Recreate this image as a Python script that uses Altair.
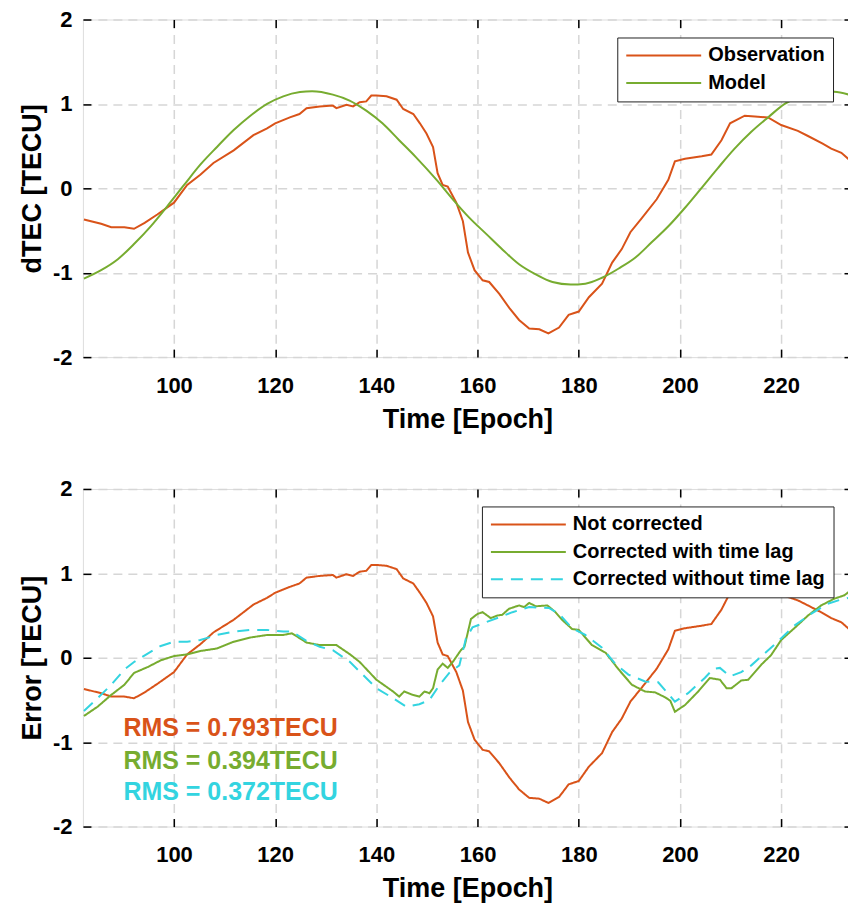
import altair as alt
import pandas as pd

# ---------------- data ----------------
# Top panel: observed dTEC (also the "Not corrected" error in the bottom panel)
obs_t = [82.2, 85.6, 87.6, 90.2, 92.1, 94.2, 96.7, 100.0, 102.6, 105.2,
         107.8, 111.8, 115.7, 118.4, 120.0, 122.9, 124.8, 126.2, 128.8, 131.4,
         132.1, 134.1, 135.4, 136.7, 138.0, 139.0, 140.0, 142.0, 144.0, 145.3,
         147.3, 148.6, 149.9, 151.2, 152.1, 153.1, 154.1, 155.8, 157.1, 158.1,
         159.4, 161.0, 162.3, 164.3, 166.3, 168.2, 170.2, 172.2, 174.0, 176.1,
         178.0, 180.0, 182.0, 184.6, 186.6, 188.5, 190.2, 192.5, 195.4, 197.7,
         199.0, 201.0, 204.3, 206.2, 208.2, 209.9, 212.8, 214.8, 217.4, 220.0,
         223.3, 225.3, 228.2, 229.9, 231.9, 234.0]
obs_v = [-0.37, -0.42, -0.46, -0.46, -0.48, -0.41, -0.31, -0.17, 0.04, 0.16,
         0.30, 0.45, 0.63, 0.71, 0.77, 0.84, 0.88, 0.95, 0.97, 0.98,
         0.95, 0.99, 0.97, 1.02, 1.03, 1.10, 1.10, 1.09, 1.05, 0.94,
         0.88, 0.77, 0.65, 0.49, 0.18, 0.04, 0.02, -0.17, -0.39, -0.76,
         -0.97, -1.09, -1.11, -1.25, -1.42, -1.56, -1.66, -1.67, -1.72, -1.65,
         -1.50, -1.46, -1.29, -1.13, -0.88, -0.72, -0.52, -0.35, -0.13, 0.10,
         0.32, 0.35, 0.38, 0.40, 0.57, 0.77, 0.86, 0.85, 0.84, 0.75,
         0.68, 0.62, 0.53, 0.47, 0.42, 0.31]

# Top panel: model
mod_t = [82.2, 85.6, 88.9, 92.1, 95.4, 98.7, 102.0, 105.2, 108.5, 111.8,
         115.1, 118.4, 121.6, 124.9, 127.3, 131.4, 134.7, 138.0, 141.2, 144.5,
         147.8, 151.9, 155.1, 158.4, 161.7, 165.0, 168.2, 171.5, 174.8, 178.4,
         181.3, 184.6, 187.9, 191.2, 194.4, 197.7, 201.0, 204.2, 207.5, 210.8,
         214.1, 217.4, 220.7, 224.0, 227.2, 230.5, 234.0]
mod_v = [-1.07, -0.97, -0.84, -0.66, -0.45, -0.21, 0.04, 0.28, 0.49, 0.69,
         0.86, 1.00, 1.09, 1.14, 1.15, 1.11, 1.04, 0.92, 0.77, 0.57,
         0.37, 0.10, -0.13, -0.35, -0.54, -0.73, -0.90, -1.02, -1.11, -1.14,
         -1.13, -1.06, -0.95, -0.82, -0.64, -0.45, -0.23, 0.00, 0.24, 0.47,
         0.67, 0.84, 1.00, 1.10, 1.15, 1.145, 1.10]

# Bottom panel: corrected with time lag
lag_t = [82.2, 84.9, 87.6, 90.2, 92.1, 94.8, 97.4, 100.0, 102.6, 105.2,
         108.5, 111.8, 115.1, 118.4, 121.6, 123.3, 126.2, 128.8, 132.1, 134.8,
         136.7, 140.0, 143.3, 144.5, 145.5, 147.2, 148.5, 149.5, 150.5, 151.2,
         152.1, 153.1, 154.1, 155.1, 156.7, 157.4, 158.7, 160.0, 161.0, 162.6,
         163.9, 164.9, 166.2, 168.2, 169.2, 170.2, 171.5, 173.8, 175.4, 176.7,
         178.7, 180.0, 182.6, 185.3, 187.9, 190.5, 193.1, 195.1, 197.1, 198.1,
         199.0, 201.0, 203.6, 205.9, 207.9, 209.2, 210.2, 212.1, 213.5, 216.1,
         218.0, 220.0, 222.6, 225.3, 227.9, 230.5, 232.5, 234.0]
lag_v = [-0.69, -0.58, -0.44, -0.32, -0.18, -0.11, -0.03, 0.02, 0.04, 0.08,
         0.11, 0.19, 0.24, 0.27, 0.27, 0.29, 0.18, 0.15, 0.15, 0.04,
         -0.05, -0.26, -0.40, -0.46, -0.40, -0.44, -0.46, -0.40, -0.42, -0.36,
         -0.14, -0.07, -0.12, -0.05, 0.09, 0.13, 0.46, 0.52, 0.54, 0.47,
         0.50, 0.51, 0.58, 0.62, 0.60, 0.65, 0.61, 0.62, 0.54, 0.45,
         0.34, 0.33, 0.15, 0.06, -0.14, -0.32, -0.40, -0.41, -0.47, -0.51,
         -0.64, -0.56, -0.40, -0.24, -0.26, -0.36, -0.36, -0.27, -0.26, -0.08,
         0.03, 0.21, 0.35, 0.50, 0.62, 0.70, 0.74, 0.81]

# Bottom panel: corrected without time lag
nolag_t = [82.2, 84.9, 87.6, 90.2, 92.1, 94.8, 97.4, 100.0, 102.6, 105.2,
           108.5, 111.8, 115.1, 118.4, 121.6, 123.3, 126.2, 128.8, 131.4, 134.8,
           137.3, 140.0, 143.3, 145.9, 148.5, 150.5, 152.5, 154.4, 156.4, 157.7,
           159.0, 161.6, 164.3, 166.9, 170.2, 174.1, 176.1, 178.7, 181.3, 184.6,
           187.2, 189.8, 193.1, 195.7, 199.0, 201.6, 204.9, 206.6, 207.9, 209.9,
           212.1, 214.1, 216.7, 219.3, 222.6, 225.9, 229.2, 231.8, 234.0]
nolag_v = [-0.63, -0.48, -0.32, -0.14, -0.05, 0.05, 0.14, 0.19, 0.19, 0.21,
           0.27, 0.31, 0.33, 0.33, 0.31, 0.31, 0.20, 0.13, 0.09, -0.05,
           -0.20, -0.36, -0.48, -0.58, -0.55, -0.50, -0.32, -0.18, -0.09, 0.23,
           0.36, 0.42, 0.48, 0.54, 0.60, 0.59, 0.52, 0.35, 0.27, 0.12,
           -0.07, -0.20, -0.28, -0.29, -0.52, -0.42, -0.24, -0.13, -0.12, -0.22,
           -0.17, -0.09, 0.05, 0.19, 0.38, 0.52, 0.64, 0.69, 0.72]

top_series = ["Observation", "Model"]
bottom_series = ["Not corrected", "Corrected with time lag", "Corrected without time lag"]

rms_labels = ["RMS = 0.793TECU", "RMS = 0.394TECU", "RMS = 0.372TECU"]
rms_t = [90.0, 90.0, 90.0]
rms_v = [-0.83, -1.22, -1.59]

x_ticks = [100, 120, 140, 160, 180, 200, 220]
y_ticks = [-2, -1, 0, 1, 2]
x_domain = [82, 234]
y_domain = [-2, 2]

# ---------------- styles ----------------
FONT = "Liberation Sans"
ORANGE = "#D95319"
GREEN = "#77AC30"
CYAN = "#33D4E0"
W, H = 770, 338

obs_df = pd.DataFrame({"t": obs_t, "v": obs_v, "series": top_series[0]})
mod_df = pd.DataFrame({"t": mod_t, "v": mod_v, "series": top_series[1]})
top_df = pd.concat([obs_df, mod_df], ignore_index=True)

bot_df = pd.concat([
    pd.DataFrame({"t": obs_t, "v": obs_v, "series": bottom_series[0]}),
    pd.DataFrame({"t": lag_t, "v": lag_v, "series": bottom_series[1]}),
    pd.DataFrame({"t": nolag_t, "v": nolag_v, "series": bottom_series[2]}),
], ignore_index=True)

rms_df = pd.DataFrame({"label": rms_labels, "t": rms_t, "v": rms_v, "series": bottom_series})

x_scale = alt.Scale(domain=x_domain, nice=False, zero=False)
y_scale = alt.Scale(domain=y_domain, nice=False, zero=False)

label_expr = "replace(datum.label, '\u2212', '-')"


def x_main_axis():
    return alt.Axis(orient="bottom", values=x_ticks, offset=-8, tickSize=8, tickWidth=1.5,
                    tickColor="black", domain=False, grid=True, gridDash=[9, 6],
                    gridColor="#d6d6d6", gridWidth=1.5, labelFont=FONT, labelFontSize=22,
                    labelFontWeight="bold", labelColor="black", labelPadding=18,
                    labelFlush=False, labelOverlap=False, labelExpr=label_expr,
                    title="Time [Epoch]", titleFont=FONT, titleFontSize=27,
                    titleFontWeight="bold", titleColor="black", titlePadding=10)


def y_main_axis(title):
    return alt.Axis(orient="left", values=y_ticks, offset=-8, tickSize=8, tickWidth=1.5,
                    tickColor="black", domain=False, grid=True, gridDash=[9, 6],
                    gridColor="#d6d6d6", gridWidth=1.5, labelFont=FONT, labelFontSize=22,
                    labelFontWeight="bold", labelColor="black", labelPadding=11,
                    labelOverlap=False, labelExpr=label_expr,
                    title=title, titleFont=FONT, titleFontSize=27,
                    titleFontWeight="bold", titleColor="black", titlePadding=6)


def x_top_axis():
    return alt.Axis(orient="top", values=x_ticks, offset=-8, tickSize=8, tickWidth=1.5,
                    tickColor="black", domain=False, grid=False, labels=False, title=None)


def y_right_axis():
    return alt.Axis(orient="right", values=y_ticks, offset=-8, tickSize=8, tickWidth=1.5,
                    tickColor="black", domain=False, grid=False, labels=False, title=None)


def legend(lx, ly):
    return alt.Legend(orient="none", legendX=lx, legendY=ly, title=None,
                      symbolType="stroke", symbolSize=5625, symbolStrokeWidth=2,
                      labelFont=FONT, labelFontSize=20, labelFontWeight="bold",
                      labelColor="black", labelOffset=6, labelLimit=400,
                      strokeColor="#222222", fillColor="white", padding=8,
                      rowPadding=7.5, clipHeight=20)


# ---------------- top panel ----------------
top_color = alt.Scale(domain=top_series, range=[ORANGE, GREEN])
top_legend = legend(535, 18)

obs_line = alt.Chart(top_df).transform_filter(
    alt.datum.series == top_series[0]
).mark_line(strokeWidth=2, clip=True).encode(
    x=alt.X("t:Q", scale=x_scale, axis=x_main_axis()),
    y=alt.Y("v:Q", scale=y_scale, axis=y_main_axis("dTEC [TECU]")),
    color=alt.Color("series:N", scale=top_color, legend=top_legend),
)
mod_line = alt.Chart(top_df).transform_filter(
    alt.datum.series == top_series[1]
).mark_line(strokeWidth=2, clip=True, interpolate="monotone").encode(
    x=alt.X("t:Q", scale=x_scale, axis=None),
    y=alt.Y("v:Q", scale=y_scale, axis=None),
    color=alt.Color("series:N", scale=top_color, legend=top_legend),
)
top_ghost = alt.Chart(top_df).mark_line(strokeOpacity=0, clip=True).encode(
    x=alt.X("t:Q", scale=x_scale, axis=x_top_axis()),
    y=alt.Y("v:Q", scale=y_scale, axis=y_right_axis()),
    detail="series:N",
)
top = alt.layer(obs_line, mod_line, top_ghost).resolve_axis(
    x="independent", y="independent"
).properties(width=W, height=H)

# ---------------- bottom panel ----------------
bot_color = alt.Scale(domain=bottom_series, range=[ORANGE, GREEN, CYAN])
bot_dash = alt.Scale(domain=bottom_series, range=[[1, 0], [1, 0], [12, 8]])
bot_legend = legend(399.5, 17.5)

bot_lines = alt.Chart(bot_df).mark_line(strokeWidth=2, clip=True).encode(
    x=alt.X("t:Q", scale=x_scale, axis=x_main_axis()),
    y=alt.Y("v:Q", scale=y_scale, axis=y_main_axis("Error [TECU]")),
    color=alt.Color("series:N", scale=bot_color, legend=bot_legend),
    strokeDash=alt.StrokeDash("series:N", scale=bot_dash, legend=bot_legend),
)
rms_text = alt.Chart(rms_df).mark_text(
    align="left", baseline="middle", font=FONT, fontSize=25, fontWeight="bold"
).encode(
    x=alt.X("t:Q", scale=x_scale, axis=None),
    y=alt.Y("v:Q", scale=y_scale, axis=None),
    color=alt.Color("series:N", scale=bot_color, legend=None),
    text="label:N",
)
bot_ghost = alt.Chart(bot_df).mark_line(strokeOpacity=0, clip=True).encode(
    x=alt.X("t:Q", scale=x_scale, axis=x_top_axis()),
    y=alt.Y("v:Q", scale=y_scale, axis=y_right_axis()),
    detail="series:N",
)
bottom = alt.layer(bot_lines, rms_text, bot_ghost).resolve_axis(
    x="independent", y="independent"
).properties(width=W, height=H)

chart = alt.vconcat(top, bottom, spacing=44).resolve_scale(
    color="independent", strokeDash="independent"
).resolve_legend(
    color="independent", strokeDash="independent"
).properties(
    padding={"left": 9, "top": -1, "right": -6, "bottom": 0}
).configure_view(
    stroke="black", strokeWidth=2
).configure_legend(
    strokeWidth=2
).configure(background="white")

chart.save("out.html", embed_options={"renderer": "svg", "actions": False})
